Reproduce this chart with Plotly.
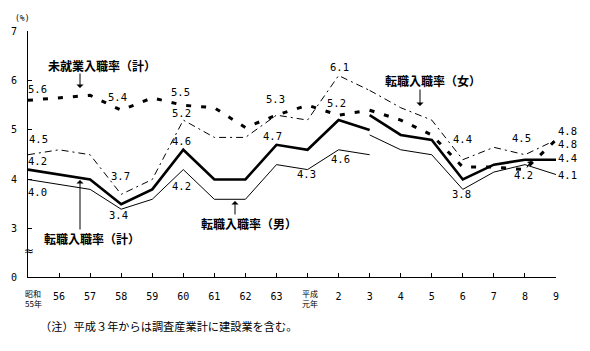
import plotly.graph_objects as go

# ---------------- data ----------------
categories = ["昭和55", "56", "57", "58", "59", "60", "61", "62", "63",
              "平成元", "2", "3", "4", "5", "6", "7", "8", "9"]
tick_labels = ["", "56", "57", "58", "59", "60", "61", "62", "63",
               "", "2", "3", "4", "5", "6", "7", "8", "9"]

# 昭和55 – 平成3 (old industry coverage)
total_old = [4.2, 4.1, 4.0, 3.5, 3.8, 4.6, 4.0, 4.0, 4.7, 4.6, 5.2, 5.0]
male_old = [4.0, 3.9, 3.8, 3.4, 3.6, 4.2, 3.6, 3.6, 4.3, 4.2, 4.6, 4.5]
female_old = [4.5, 4.6, 4.5, 3.7, 4.0, 5.2, 4.85, 4.85, 5.3, 5.2, 6.1, 5.8]
nonemp_old = [5.6, 5.65, 5.7, 5.4, 5.65, 5.5, 5.45, 5.05, 5.3, 5.5, 5.3, 5.4]

# 平成3 – 9 (incl. construction)
total_new = [5.3, 4.9, 4.8, 4.0, 4.3, 4.4, 4.4]
male_new = [4.9, 4.6, 4.5, 3.8, 4.15, 4.3, 4.1]
female_new = [5.8, 5.45, 5.2, 4.4, 4.65, 4.5, 4.8]
nonemp_new = [5.4, 5.2, 4.9, 4.25, 4.25, 4.2, 4.8]

ytick_vals = [2.03, 3, 4, 5, 6, 7]
ytick_text = ["0", "3", "4", "5", "6", "7"]

# value labels: (text, pixel x, pixel y)
value_labels = [
    ("5.6", 37, 89), ("5.4", 117, 97), ("5.5", 180, 92), ("5.2", 181, 113),
    ("4.5", 38, 139), ("4.2", 37, 161), ("4.0", 37, 192), ("3.7", 120, 176),
    ("3.4", 118, 215), ("4.6", 181, 141), ("4.2", 181, 186), ("4.7", 272, 136),
    ("4.3", 306, 174), ("4.6", 340, 159), ("5.3", 275, 99), ("6.1", 339, 67),
    ("5.2", 336, 103), ("4.4", 462, 139), ("4.5", 521, 138), ("4.8", 567, 131),
    ("4.8", 567, 144), ("4.4", 567, 158), ("4.1", 567, 175), ("4.2", 523, 175),
    ("3.8", 461, 194),
]

# ---------------- geometry helpers ----------------
W, H = 590, 351
ML, MR, MT, MB = 28, 34, 31, 74
PW, PH = W - ML - MR, H - MT - MB


def px(x, y):
    return (x - ML) / PW, (H - MB - y) / PH


n_old = len(total_old)
x_idx = list(range(len(categories)))


def joined(old, new):
    xs = x_idx[:n_old] + [None] + x_idx[n_old - 1:]
    ys = old + [None] + new
    return xs, ys


fig = go.Figure()

styles = [
    (total_old, total_new, dict(color="black", width=2.6)),
    (male_old, male_new, dict(color="black", width=1)),
    (female_old, female_new, dict(color="black", width=1, dash="7px,4px,2px,4px")),
    (nonemp_old, nonemp_new, dict(color="black", width=3, dash="5px,10px")),
]
for old, new, ln in styles:
    xs, ys = joined(old, new)
    fig.add_trace(go.Scatter(x=xs, y=ys, mode="lines", line=ln,
                             connectgaps=False, showlegend=False,
                             hoverinfo="skip"))

mono = "DejaVu Sans Mono, Liberation Mono, monospace"
cjk = "Noto Sans CJK JP, sans-serif"

ann = []
for t, x, y in value_labels:
    ax, ay = px(x, y)
    ann.append(dict(text=t, x=ax, y=ay, xref="paper", yref="paper",
                    showarrow=False, font=dict(family=mono, size=10.5, color="black"),
                    xanchor="center", yanchor="middle"))

series_labels = [
    ("未就業入職率（計）", 102, 65, 80, 72, 80, 88),
    ("転職入職率（計）", 92, 238, 80, 231, 80, 180),
    ("転職入職率（男）", 249, 223, 235, 216, 235, 201),
    ("転職入職率（女）", 433, 80, 420, 88, 420, 106),
]
for t, x, y, tx, ty, hx, hy in series_labels:
    ax, ay = px(x, y)
    ann.append(dict(text="<b>" + t + "</b>", x=ax, y=ay, xref="paper", yref="paper",
                    showarrow=False, font=dict(family=cjk, size=12, color="black"),
                    xanchor="center", yanchor="middle"))
    hx_, hy_ = px(hx, hy)
    ann.append(dict(text="", x=hx_, y=hy_, xref="paper", yref="paper",
                    showarrow=True, ax=tx - hx, ay=ty - hy, arrowhead=1,
                    arrowsize=1.2, arrowwidth=1, arrowcolor="black"))

# small leader arrow for 4.2
hx_, hy_ = px(531, 161)
ann.append(dict(text="", x=hx_, y=hy_, xref="paper", yref="paper", showarrow=True,
                ax=-5, ay=8, arrowhead=1, arrowsize=1, arrowwidth=1, arrowcolor="black"))

# two-line x labels
for t, x in [("昭和<br>55年", 33), ("平成<br>元年", 310)]:
    ax, ay = px(x, 298)
    ann.append(dict(text=t, x=ax, y=ay, xref="paper", yref="paper", showarrow=False,
                    font=dict(family=cjk, size=8, color="black"),
                    xanchor="center", yanchor="middle", align="left"))

# (%) and break mark
ax, ay = px(13, 12)
ann.append(dict(text="(%)", x=ax, y=ay, xref="paper", yref="paper", showarrow=False,
                font=dict(family=mono, size=8, color="black")))
ax, ay = px(22, 260)
ann.append(dict(text="≈", x=ax, y=ay, xref="paper", yref="paper", showarrow=False,
                font=dict(family="DejaVu Sans", size=12, color="black")))

# note
ax, ay = px(38, 326)
ann.append(dict(text="（注）平成３年からは調査産業計に建設業を含む。", x=ax, y=ay,
                xref="paper", yref="paper", showarrow=False, xanchor="left",
                yanchor="middle", font=dict(family=cjk, size=11.2, color="black")))

fig.update_layout(
    width=W, height=H,
    margin=dict(l=ML, r=MR, t=MT, b=MB, pad=0),
    paper_bgcolor="white", plot_bgcolor="white",
    annotations=ann,
    xaxis=dict(range=[0, len(categories) - 1], tickvals=x_idx, ticktext=tick_labels,
               showgrid=False, zeroline=False, showline=True, linecolor="black",
               linewidth=1, ticks="inside", ticklen=4, tickcolor="black",
               tickfont=dict(family=mono, size=10, color="black"),
               ticklabelstandoff=10),
    yaxis=dict(range=[2.03, 7], tickvals=ytick_vals, ticktext=ytick_text,
               showgrid=False, zeroline=False, showline=True, linecolor="black",
               linewidth=1, ticks="inside", ticklen=4, tickcolor="black",
               tickfont=dict(family=mono, size=10, color="black"),
               ticklabelstandoff=8),
)

fig.write_html("out.html")
